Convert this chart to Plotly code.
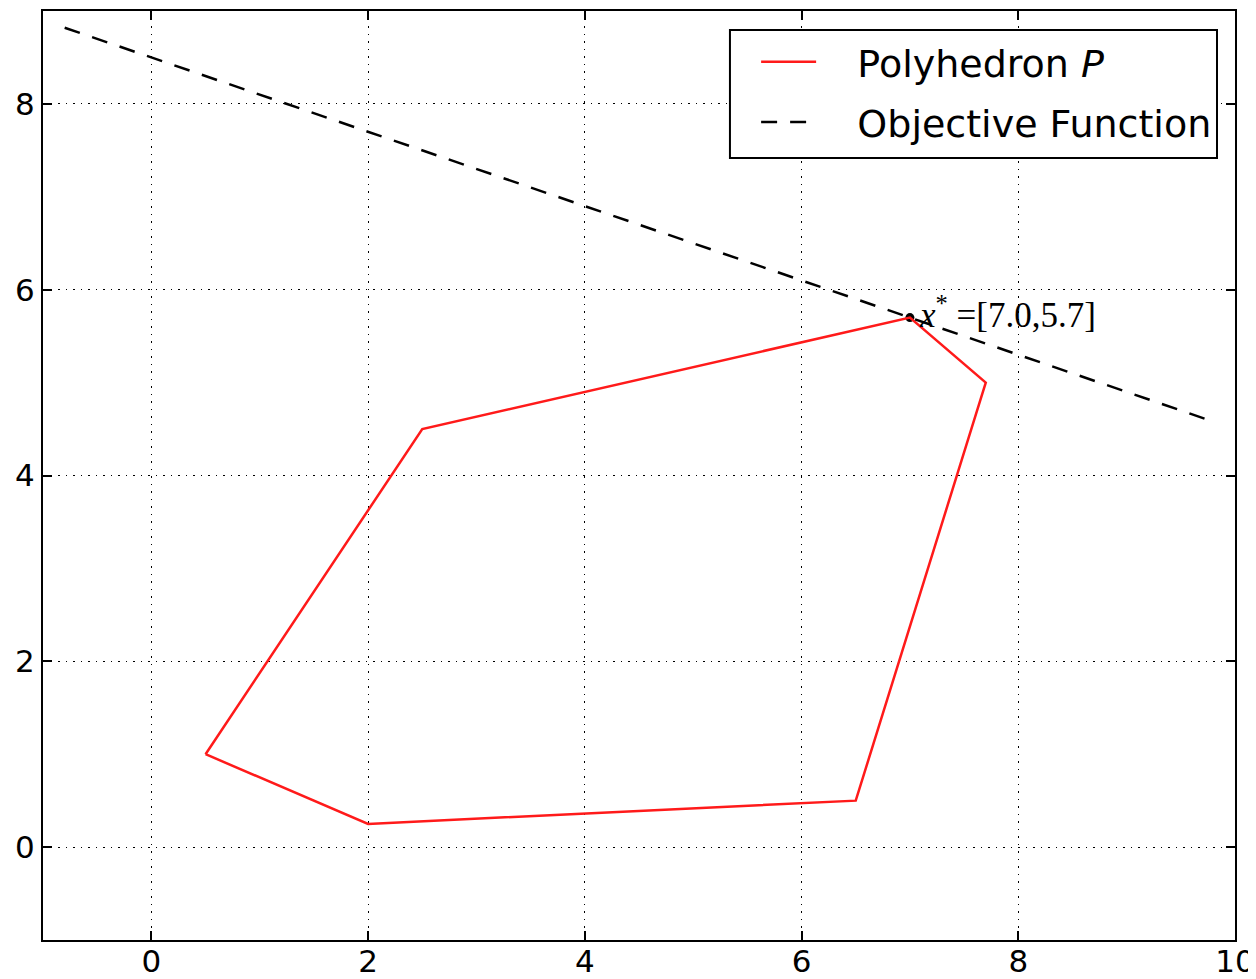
import plotly.graph_objects as go

poly_x = [0.5, 2.0, 6.5, 7.7, 7.0, 2.5, 0.5]
poly_y = [1.0, 0.25, 0.5, 5.0, 5.7, 4.5, 1.0]
obj_x = [-0.8, 9.8]
obj_y = [8.82, 4.58]
opt_x = [7.0]
opt_y = [5.7]
opt_label = "<i>x</i><sup>*</sup> =[7.0,5.7]"
legend_names = ["Polyhedron <i>P</i>", "Objective Function"]
x_ticks = [0, 2, 4, 6, 8, 10]
y_ticks = [0, 2, 4, 6, 8]

pad = "&nbsp;&nbsp;&nbsp;"

fig = go.Figure()
fig.add_trace(go.Scatter(x=opt_x, y=opt_y, mode="markers",
                         marker=dict(color="black", size=9), showlegend=False))
fig.add_trace(go.Scatter(x=poly_x, y=poly_y, mode="lines", name=pad + legend_names[0],
                         legendgroup="a",
                         line=dict(color="#ff1a1a", width=2.5)))
fig.add_trace(go.Scatter(x=obj_x, y=obj_y, mode="lines", name=pad + legend_names[1],
                         legendgroup="b",
                         line=dict(color="black", width=2.5, dash="16px,13px")))

fig.add_annotation(x=opt_x[0], y=opt_y[0], text=opt_label, showarrow=False,
                   xanchor="left", yanchor="middle", xshift=7, yshift=5,
                   font=dict(family="Liberation Serif, DejaVu Serif, serif", size=35, color="black"))

# legend frame
fig.add_shape(type="rect", xref="paper", yref="paper",
              x0=0.5763, x1=0.9849, y0=0.8418, y1=0.9795,
              line=dict(color="black", width=2), fillcolor="white", layer="above")

axis_common = dict(showline=True, linecolor="black", linewidth=2, mirror="ticks",
                   ticks="inside", ticklen=9, tickwidth=1.5, tickcolor="black",
                   showgrid=True, gridcolor="black", gridwidth=1, griddash="1.5px,6px",
                   zeroline=False, automargin=False,
                   tickfont=dict(family="DejaVu Sans", size=31, color="black"))

fig.update_xaxes(range=[-1, 10], tickvals=x_ticks, ticklabelstandoff=-7, **axis_common)
fig.update_yaxes(range=[-1, 9], tickvals=y_ticks, ticklabelstandoff=0, **axis_common)

fig.update_layout(
    width=1248, height=971,
    margin=dict(l=35, r=21, t=3, b=39),
    plot_bgcolor="white", paper_bgcolor="white",
    legend=dict(x=0.985, y=0.979, xanchor="right", yanchor="top",
                bgcolor="rgba(0,0,0,0)", borderwidth=0,
                font=dict(family="DejaVu Sans", size=38, color="black"),
                itemwidth=55, tracegroupgap=8),
)

fig.write_html("out.html")
